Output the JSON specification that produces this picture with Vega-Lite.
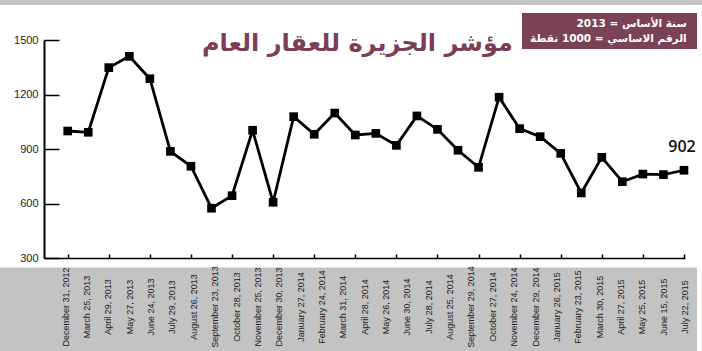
{
  "$schema": "https://vega.github.io/schema/vega-lite/v6.json",
  "width": 641,
  "height": 218,
  "autosize": {"type": "none"},
  "padding": {"left": 44, "top": 40, "right": 17, "bottom": 93},
  "background": "white",
  "config": {"view": {"stroke": null}},
  "datasets": {
    "series": [
      {"i": 0, "v": 999}, {"i": 1, "v": 992}, {"i": 2, "v": 1348}, {"i": 3, "v": 1410},
      {"i": 4, "v": 1287}, {"i": 5, "v": 887}, {"i": 6, "v": 805}, {"i": 7, "v": 574},
      {"i": 8, "v": 643}, {"i": 9, "v": 1003}, {"i": 10, "v": 607}, {"i": 11, "v": 1078},
      {"i": 12, "v": 981}, {"i": 13, "v": 1098}, {"i": 14, "v": 977}, {"i": 15, "v": 986},
      {"i": 16, "v": 920}, {"i": 17, "v": 1082}, {"i": 18, "v": 1008}, {"i": 19, "v": 893},
      {"i": 20, "v": 799}, {"i": 21, "v": 1185}, {"i": 22, "v": 1012}, {"i": 23, "v": 968},
      {"i": 24, "v": 876}, {"i": 25, "v": 658}, {"i": 26, "v": 854}, {"i": 27, "v": 720},
      {"i": 28, "v": 762}, {"i": 29, "v": 759}, {"i": 30, "v": 783, "note": "902"}
    ],
    "labels": [
      {"d": "December 31, 2012"}, {"d": "March 25, 2013"}, {"d": "April 29, 2013"}, {"d": "May 27, 2013"},
      {"d": "June 24, 2013"}, {"d": "July 29, 2013"}, {"d": "August 26, 2013"}, {"d": "September 23, 2013"},
      {"d": "October 28, 2013"}, {"d": "November 25, 2013"}, {"d": "December 30, 2013"}, {"d": "January 27, 2014"},
      {"d": "February 24, 2014"}, {"d": "March 31, 2014"}, {"d": "April 28, 2014"}, {"d": "May 26, 2014"},
      {"d": "June 30, 2014"}, {"d": "July 28, 2014"}, {"d": "August 25, 2014"}, {"d": "September 29, 2014"},
      {"d": "October 27, 2014"}, {"d": "November 24, 2014"}, {"d": "December 29, 2014"}, {"d": "January 26, 2015"},
      {"d": "February 23, 2015"}, {"d": "March 30, 2015"}, {"d": "April 27, 2015"}, {"d": "May 25, 2015"},
      {"d": "June 15, 2015"}, {"d": "July 22, 2015"}
    ],
    "one": [{}]
  },
  "layer": [
    {
      "layer": [
        {
          "data": {"name": "one"},
          "mark": {"type": "rect", "fill": "#c3c3c3"},
          "encoding": {
            "x": {"datum": -3.3, "type": "quantitative", "scale": {"domain": [-1.154, 30.05], "nice": false, "zero": false}},
            "x2": {"datum": 30.634},
            "y": {"datum": 247.7, "type": "quantitative", "scale": {"domain": [300, 1500], "nice": false, "zero": false}},
            "y2": {"datum": -215}
          }
        },
        {
          "data": {"name": "one"},
          "mark": {"type": "rect", "fill": "#c3c3c3"},
          "encoding": {
            "x": {"datum": -3.3, "type": "quantitative"},
            "x2": {"datum": 30.9},
            "y": {"datum": 1725, "type": "quantitative"},
            "y2": {"datum": 1692.7}
          }
        },
        {
          "data": {"name": "one"},
          "mark": {"type": "text", "text": "مؤشر الجزيرة للعقار العام", "font": "DejaVu Sans", "fontWeight": "bold", "fontSize": 24, "fill": "#7b3d57", "align": "center", "baseline": "alphabetic"},
          "encoding": {
            "x": {"datum": 14.1, "type": "quantitative"},
            "y": {"datum": 1439.5, "type": "quantitative"}
          }
        },
        {
          "data": {"name": "one"},
          "mark": {"type": "rect", "fill": "#7b4257"},
          "encoding": {
            "x": {"datum": 22.115, "type": "quantitative"},
            "x2": {"datum": 30.634},
            "y": {"datum": 1648.6, "type": "quantitative"},
            "y2": {"datum": 1450.5}
          }
        },
        {
          "data": {"name": "one"},
          "mark": {"type": "text", "text": "\u202bسنة الأساس = 2013\u202c", "font": "DejaVu Sans", "fontWeight": "bold", "fontSize": 10.5, "fill": "white", "align": "right", "baseline": "middle"},
          "encoding": {
            "x": {"datum": 30.133, "type": "quantitative"},
            "y": {"datum": 1588, "type": "quantitative"}
          }
        },
        {
          "data": {"name": "one"},
          "mark": {"type": "text", "text": "\u202bالرقم الاساسي = 1000 نقطة\u202c", "font": "DejaVu Sans", "fontWeight": "bold", "fontSize": 10.5, "fill": "white", "align": "right", "baseline": "middle"},
          "encoding": {
            "x": {"datum": 30.133, "type": "quantitative"},
            "y": {"datum": 1502.8, "type": "quantitative"}
          }
        },
        {
          "data": {"name": "series"},
          "mark": {"type": "line", "color": "black", "strokeWidth": 2.8},
          "encoding": {
            "x": {
              "field": "i", "type": "quantitative",
              "scale": {"domain": [-1.154, 30.05], "nice": false, "zero": false},
              "axis": {
                "values": [0,1,2,3,4,5,6,7,8,9,10,11,12,13,14,15,16,17,18,19,20,21,22,23,24,25,26,27,28,29,30],
                "labels": false, "title": null, "grid": false,
                "tickSize": -4, "tickWidth": 1.5, "tickColor": "black",
                "domainColor": "black", "domainWidth": 1.5
              }
            },
            "y": {
              "field": "v", "type": "quantitative",
              "scale": {"domain": [300, 1500], "nice": false, "zero": false},
              "axis": {
                "values": [300, 600, 900, 1200, 1500],
                "format": "d",
                "title": null, "grid": false,
                "tickSize": -15, "tickWidth": 1.5, "tickColor": "black",
                "domainColor": "black", "domainWidth": 2,
                "labelPadding": 21, "labelFont": "Liberation Sans", "labelFontSize": 11, "labelColor": "#222"
              }
            }
          }
        },
        {
          "data": {"name": "series"},
          "mark": {"type": "point", "shape": "square", "filled": true, "size": 75, "color": "black", "opacity": 1},
          "encoding": {
            "x": {"field": "i", "type": "quantitative"},
            "y": {"field": "v", "type": "quantitative"}
          }
        },
        {
          "data": {"name": "series"},
          "transform": [{"filter": {"field": "note", "valid": true}}],
          "mark": {"type": "text", "font": "Open Sans", "fontWeight": 600, "fontSize": 16, "fill": "#111", "align": "center", "baseline": "middle", "dy": -23, "dx": -2},
          "encoding": {
            "x": {"field": "i", "type": "quantitative"},
            "y": {"field": "v", "type": "quantitative"},
            "text": {"field": "note"}
          }
        }
      ]
    },
    {
      "data": {"name": "labels"},
      "mark": {"type": "text", "font": "Liberation Sans", "fontSize": 9, "fill": "#222", "angle": 270, "align": "center", "baseline": "middle"},
      "encoding": {
        "x": {"field": "d", "type": "ordinal", "sort": null, "axis": null, "scale": {"type": "point", "padding": 0.508, "align": 1}},
        "y": {"datum": 30.3, "type": "quantitative"},
        "text": {"field": "d"}
      }
    }
  ],
  "resolve": {"scale": {"x": "independent"}}
}
